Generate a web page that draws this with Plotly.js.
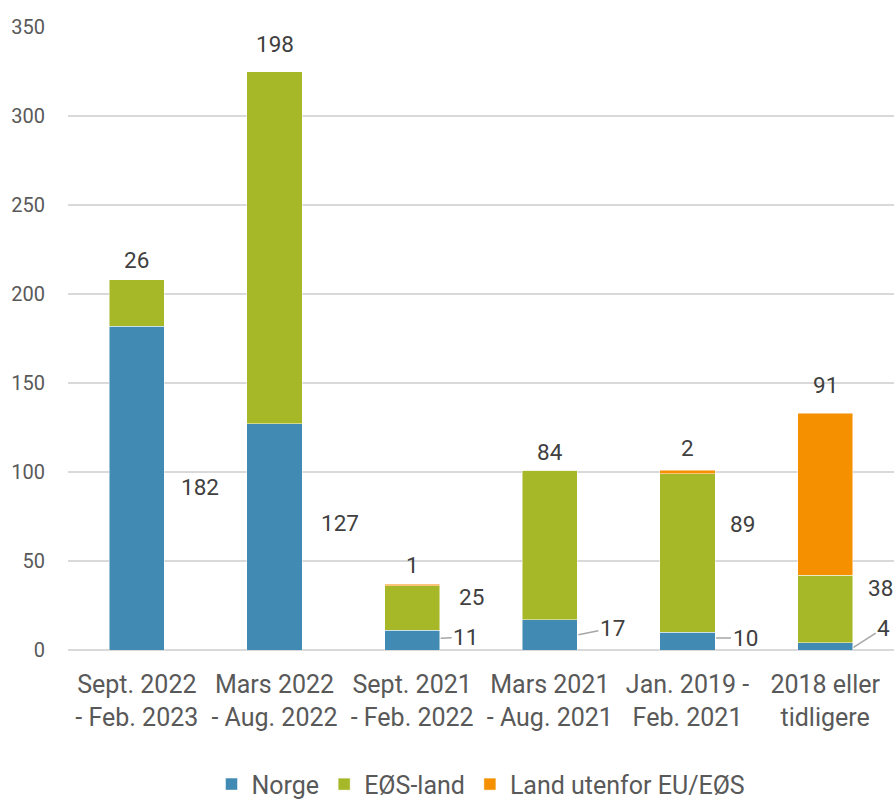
<!DOCTYPE html>
<html>
<head>
<meta charset="utf-8">
<script src="https://cdn.plot.ly/plotly-3.0.1.min.js"></script>
<style>html,body{margin:0;padding:0;background:#fff;}#chart{width:895px;height:802px;}</style>
</head>
<body>
<div id="chart"></div>
<script>
const categories = ["Sept. 2022<br>- Feb. 2023", "Mars 2022<br>- Aug. 2022", "Sept. 2021<br>- Feb. 2022", "Mars 2021<br>- Aug. 2021", "Jan. 2019 -<br>Feb. 2021", "2018 eller<br>tidligere"];
const norge = [182, 127, 11, 17, 10, 4];
const eos = [26, 198, 25, 84, 89, 38];
const utenfor = [0, 0, 1, 0, 2, 91];
const seriesNames = ["Norge", "EØS-land", "Land utenfor EU/EØS"];
const colors = ["#418AB3", "#A6B727", "#F59100"];
const yTicks = [0, 50, 100, 150, 200, 250, 300, 350];

const idx = categories.map((c, i) => i);
const traces = [norge, eos, utenfor].map((vals, k) => ({
  type: "bar", name: seriesNames[k], x: idx, y: vals,
  marker: {color: colors[k], line: {color: "rgba(255,255,255,0.6)", width: 0.8}},
  width: 0.4, hoverinfo: "none"
}));

const labelFont = {family: "Roboto, sans-serif", size: 22.5, color: "#404040"};
const ann = [];
// top labels (value of topmost segment, above the stack)
const topShift = [5, 13, 4, 3, 7, 13];
idx.forEach(i => {
  const total = norge[i] + eos[i] + utenfor[i];
  const topVal = utenfor[i] > 0 ? utenfor[i] : eos[i];
  ann.push({x: i, y: total, xref: "x", yref: "y", text: String(topVal), showarrow: false,
    yanchor: "bottom", yshift: topShift[i], font: labelFont});
});
// labels to the right of the bar
const rightLabels = [
  {i: 0, s: "norge", dx: 63, dy: 1},
  {i: 1, s: "norge", dx: 65, dy: 14},
  {i: 2, s: "eos", dx: 59, dy: 11},
  {i: 4, s: "eos", dx: 55, dy: 29},
  {i: 5, s: "eos", dx: 55, dy: 21}
];
rightLabels.forEach(r => {
  const base = r.s === "norge" ? 0 : norge[r.i];
  const v = r.s === "norge" ? norge[r.i] : eos[r.i];
  ann.push({x: r.i, y: base + v / 2, xref: "x", yref: "y", text: String(v), showarrow: false,
    xshift: r.dx, yshift: r.dy, font: labelFont});
});
// Norge labels with leader lines
const leaders = [
  {i: 2, f: 0.6, ax: 26, ay: -1},
  {i: 3, f: 0.5, ax: 35, ay: -7},
  {i: 4, f: 0.67, ax: 30, ay: 0},
  {i: 5, f: 0.3, ax: 31, ay: -20}
];
leaders.forEach(l => {
  ann.push({x: l.i + 0.2, y: norge[l.i] * l.f, xref: "x", yref: "y", text: String(norge[l.i]),
    showarrow: true, arrowhead: 0, arrowwidth: 1.5, arrowcolor: "#A6A6A6", standoff: 1,
    ax: l.ax, ay: l.ay, font: labelFont});
});

const layout = {
  width: 895, height: 802,
  margin: {l: 68, r: 1, t: 27, b: 152, autoexpand: false},
  barmode: "stack",
  paper_bgcolor: "#fff", plot_bgcolor: "#fff",
  font: {family: "Roboto, sans-serif", color: "#595959"},
  showlegend: true,
  legend: {orientation: "h", x: 0.5, xanchor: "center", yref: "container", y: 0.022, yanchor: "middle",
    font: {size: 25, color: "#595959"}, traceorder: "normal", itemwidth: 30},
  xaxis: {type: "linear", range: [-0.5, 5.5], tickvals: idx, ticktext: categories,
    showgrid: false, zeroline: false, showline: false, ticks: "", automargin: false,
    ticklabelstandoff: 17,
    tickfont: {size: 25, color: "#595959"}, fixedrange: true},
  yaxis: {range: [0, 350], tickvals: yTicks, showgrid: true, gridcolor: "#D9D9D9", gridwidth: 1.5,
    zeroline: true, zerolinecolor: "#D9D9D9", zerolinewidth: 1.5, showline: false, ticks: "",
    automargin: false,
    ticklabelstandoff: 22, tickfont: {size: 20, color: "#595959"}, fixedrange: true},
  annotations: ann
};
Plotly.newPlot("chart", traces, layout, {displayModeBar: false, staticPlot: true});
</script>
</body>
</html>
